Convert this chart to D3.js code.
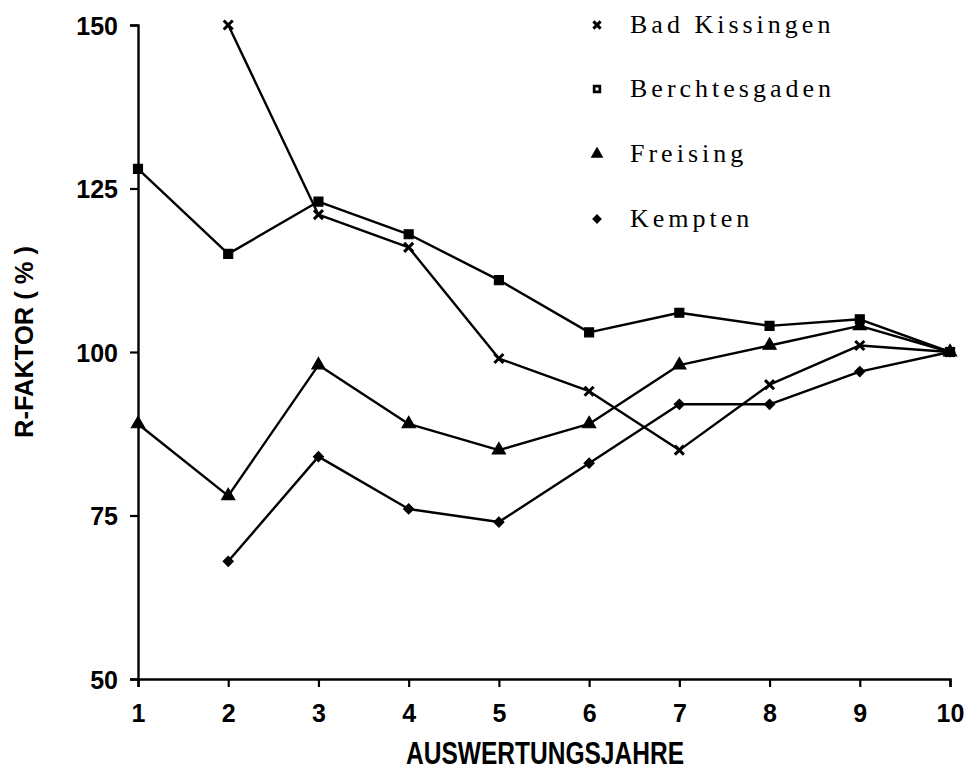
<!DOCTYPE html>
<html>
<head>
<meta charset="utf-8">
<script src="https://cdn.jsdelivr.net/npm/d3@7"></script>
<style>
  html, body { margin: 0; padding: 0; background: #fff; }
  svg { display: block; }
  .tick-label { font-family: "Liberation Sans", Arial, sans-serif; font-weight: bold; font-size: 25px; fill: #000; }
  .legend-label { font-family: "Liberation Serif", "DejaVu Serif", serif; font-size: 26px; letter-spacing: 4px; fill: #000; }
</style>
</head>
<body>
<svg id="chart" width="970" height="771"></svg>
<script>
// Evaluation years on the x axis
const years = [1, 2, 3, 4, 5, 6, 7, 8, 9, 10];
const xTicks = [1, 2, 3, 4, 5, 6, 7, 8, 9, 10];
const yTicks = [50, 75, 100, 125, 150];

// R-factor in percent per station (null = no value)
const badKissingen   = [null, 150, 121, 116, 99, 94, 85, 95, 101, 100];
const berchtesgaden  = [128, 115, 123, 118, 111, 103, 106, 104, 105, 100];
const freising       = [89, 78, 98, 89, 85, 89, 98, 101, 104, 100];
const kempten        = [null, 68, 84, 76, 74, 83, 92, 92, 97, 100];

const seriesNames = ["Bad Kissingen", "Berchtesgaden", "Freising", "Kempten"];
const seriesValues = [badKissingen, berchtesgaden, freising, kempten];
const seriesSymbols = ["cross", "square", "triangle", "diamond"];

const xTitle = "AUSWERTUNGSJAHRE";
const yTitle = "R-FAKTOR ( % )";

const svg = d3.select("#chart");

const x = d3.scaleLinear().domain([1, 10]).range([138, 950]);
const y = d3.scaleLinear().domain([50, 150]).range([679, 25]);

// Axes
const yAxis = d3.axisLeft(y).tickValues(yTicks).tickSize(8).tickPadding(12).tickFormat(d3.format("d"));
const xAxis = d3.axisBottom(x).tickValues(xTicks).tickSize(8).tickPadding(17).tickFormat(d3.format("d"));

const gy = svg.append("g").attr("transform", `translate(${x(1)},0)`).call(yAxis);
const gx = svg.append("g").attr("transform", `translate(0,${y(50)})`).call(xAxis);

[gy, gx].forEach(g => {
  g.select(".domain").attr("stroke", "#000").attr("stroke-width", 2.4);
  g.selectAll(".tick line").attr("stroke", "#000").attr("stroke-width", 2.2);
  g.selectAll(".tick text").attr("class", "tick-label").attr("font-family", null).attr("font-size", null);
});
gy.selectAll(".tick text").attr("dy", "0.36em");

// Axis titles
svg.append("text")
  .attr("class", "tick-label")
  .attr("transform", `translate(33,342) rotate(-90)`)
  .attr("text-anchor", "middle")
  .attr("font-size", 22)
  .attr("textLength", 192)
  .attr("lengthAdjust", "spacingAndGlyphs")
  .text(yTitle);

svg.append("text")
  .attr("class", "tick-label")
  .attr("transform", `translate(545,764) scale(1,1.25)`)
  .attr("text-anchor", "middle")
  .attr("font-size", 24)
  .attr("textLength", 278)
  .attr("lengthAdjust", "spacingAndGlyphs")
  .text(xTitle);

// Marker shapes
const symbolTypes = {
  cross: d3.symbolX,
  square: d3.symbolSquare,
  triangle: d3.symbolTriangle,
  diamond: d3.symbolSquare   // drawn rotated by 45 degrees
};
const symbolSizes = { cross: 55, square: 80, triangle: 75, diamond: 50 };

function drawMarker(g, type, cx, cy, scale = 1) {
  const path = d3.symbol().type(symbolTypes[type]).size(symbolSizes[type] * scale)();
  const rot = type === "diamond" ? " rotate(45)" : "";
  const m = g.append("path")
    .attr("d", path)
    .attr("transform", `translate(${cx},${cy})${rot}`);
  if (type === "cross") {
    m.attr("fill", "none").attr("stroke", "#000").attr("stroke-width", 3);
  } else {
    m.attr("fill", "#000").attr("stroke", "#000").attr("stroke-width", 1.2);
  }
  return m;
}

const line = d3.line()
  .defined(d => d.v != null)
  .x(d => x(d.year))
  .y(d => y(d.v));

const plot = svg.append("g");
seriesValues.forEach((vals, i) => {
  const pts = years.map((yr, j) => ({ year: yr, v: vals[j] }));
  plot.append("path")
    .datum(pts)
    .attr("d", line)
    .attr("fill", "none")
    .attr("stroke", "#000")
    .attr("stroke-width", 2.4)
    .attr("stroke-linejoin", "round");
  pts.filter(d => d.v != null).forEach(d => {
    drawMarker(plot, seriesSymbols[i], x(d.year), y(d.v));
  });
});

// Legend
const legendRows = [25, 89, 154, 219];
const legend = svg.append("g");
seriesNames.forEach((name, i) => {
  drawMarker(legend, seriesSymbols[i], 597, legendRows[i], 0.65);
  if (seriesSymbols[i] === "square") {
    legend.append("rect")
      .attr("x", 595.5).attr("y", legendRows[i] - 1.5)
      .attr("width", 3).attr("height", 3).attr("fill", "#fff");
  }
  legend.append("text")
    .attr("class", "legend-label")
    .attr("x", 630)
    .attr("y", legendRows[i] + 8)
    .text(name);
});
</script>
</body>
</html>
